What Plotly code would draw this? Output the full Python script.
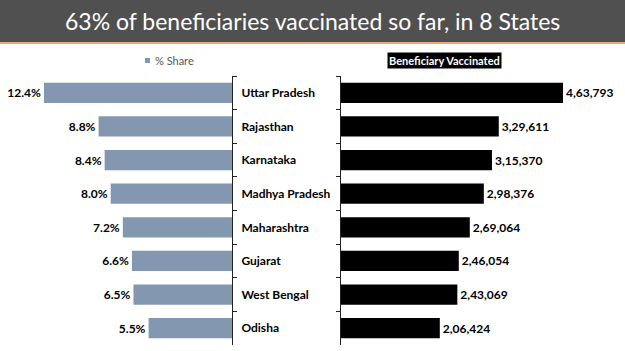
import plotly.graph_objects as go

states = ["Uttar Pradesh", "Rajasthan", "Karnataka", "Madhya Pradesh",
          "Maharashtra", "Gujarat", "West Bengal", "Odisha"]
share_pct = [12.4, 8.8, 8.4, 8.0, 7.2, 6.6, 6.5, 5.5]
vaccinated = [463793, 329611, 315370, 298376, 269064, 246054, 243069, 206424]

title_text = "63% of beneficiaries vaccinated so far, in 8 States"
left_legend = "% Share"
right_legend = "Beneficiary Vaccinated"


def indian_format(n):
    s = str(int(n))
    if len(s) <= 3:
        return s
    last3 = s[-3:]
    rest = s[:-3]
    groups = []
    while len(rest) > 2:
        groups.insert(0, rest[-2:])
        rest = rest[:-2]
    if rest:
        groups.insert(0, rest)
    return ",".join(groups) + "," + last3


W, H = 625, 351
FONT = "Lato"
LBL = dict(family=FONT, size=12, color="black")

fig = go.Figure()

fig.add_trace(go.Bar(
    y=states, x=share_pct, orientation="h",
    marker=dict(color="#8497b0", line=dict(width=0)),
    text=[f"{v:.1f}%" for v in share_pct],
    textposition="outside", textfont=LBL, cliponaxis=False,
    xaxis="x", yaxis="y", showlegend=False, hoverinfo="skip",
))
fig.add_trace(go.Bar(
    y=states, x=vaccinated, orientation="h",
    marker=dict(color="black", line=dict(width=0)),
    text=[indian_format(v) for v in vaccinated],
    textposition="outside", textfont=LBL, cliponaxis=False,
    xaxis="x2", yaxis="y2", showlegend=False, hoverinfo="skip",
))

ytop = 1 - 76.0 / H
ybot = 1 - 345.0 / H
xl = 232.0 / W
xr = 341.0 / W
px_per_pct = (232.0 - 44.0) / 12.4
px_per_unit = (563.0 - 341.0) / 463793

fig.update_layout(
    width=W, height=H,
    margin=dict(l=0, r=0, t=0, b=0),
    paper_bgcolor="white", plot_bgcolor="rgba(0,0,0,0)",
    bargap=0.4,
    xaxis=dict(domain=[0, xl], range=[232.0 / px_per_pct, 0], visible=False,
               anchor="y"),
    xaxis2=dict(domain=[xr, 1], range=[0, (W - 341.0) / px_per_unit],
                visible=False, anchor="y2"),
    yaxis=dict(domain=[ybot, ytop], anchor="x", side="right",
               categoryorder="array", categoryarray=states,
               autorange="reversed",
               showline=True, linecolor="#222", linewidth=1,
               ticks="outside", ticklen=4, tickcolor="#222",
               tickson="boundaries", ticklabelstandoff=6,
               tickfont=dict(family=FONT, size=12, color="black", weight="bold"),
               showgrid=False, zeroline=False),
    yaxis2=dict(domain=[ybot, ytop], anchor="x2", side="left",
                categoryorder="array", categoryarray=states,
                autorange="reversed",
                showline=True, linecolor="#222", linewidth=1,
                ticks="outside", ticklen=4, tickcolor="#222",
                tickson="boundaries", showticklabels=False,
                showgrid=False, zeroline=False),
    uniformtext=dict(mode=False),
    shapes=[
        dict(type="rect", xref="paper", yref="paper", x0=0, x1=1,
             y0=1 - 42.0 / H, y1=1, fillcolor="#505050", line=dict(width=0),
             layer="below"),
        dict(type="rect", xref="paper", yref="paper", x0=0, x1=1,
             y0=1 - 44.0 / H, y1=1 - 42.0 / H, fillcolor="#e8a878",
             line=dict(width=0), layer="below"),
        dict(type="rect", xref="paper", yref="paper", x0=145.0 / W, x1=150.0 / W,
             y0=1 - 63.0 / H, y1=1 - 58.0 / H, fillcolor="#8497b0",
             line=dict(width=0)),
    ],
    annotations=[
        dict(text=title_text, xref="paper", yref="paper", x=0.5, y=1 - 21.0 / H,
             xanchor="center", yanchor="middle", showarrow=False,
             font=dict(family=FONT, size=23, color="white")),
        dict(text=left_legend, xref="paper", yref="paper", x=153.0 / W,
             y=1 - 60.5 / H, xanchor="left", yanchor="middle", showarrow=False,
             font=dict(family=FONT, size=11, color="#595959")),
        dict(text="<b>" + right_legend + "</b>", xref="paper", yref="paper",
             x=444.0 / W, y=1 - 60.5 / H, xanchor="center", yanchor="middle",
             showarrow=False, bgcolor="black", borderpad=1,
             font=dict(family=FONT, size=11, color="white")),
    ],
)

fig.update_traces(textfont=dict(family=FONT, size=12, color="black", weight="bold"))

fig.write_html("out.html")
